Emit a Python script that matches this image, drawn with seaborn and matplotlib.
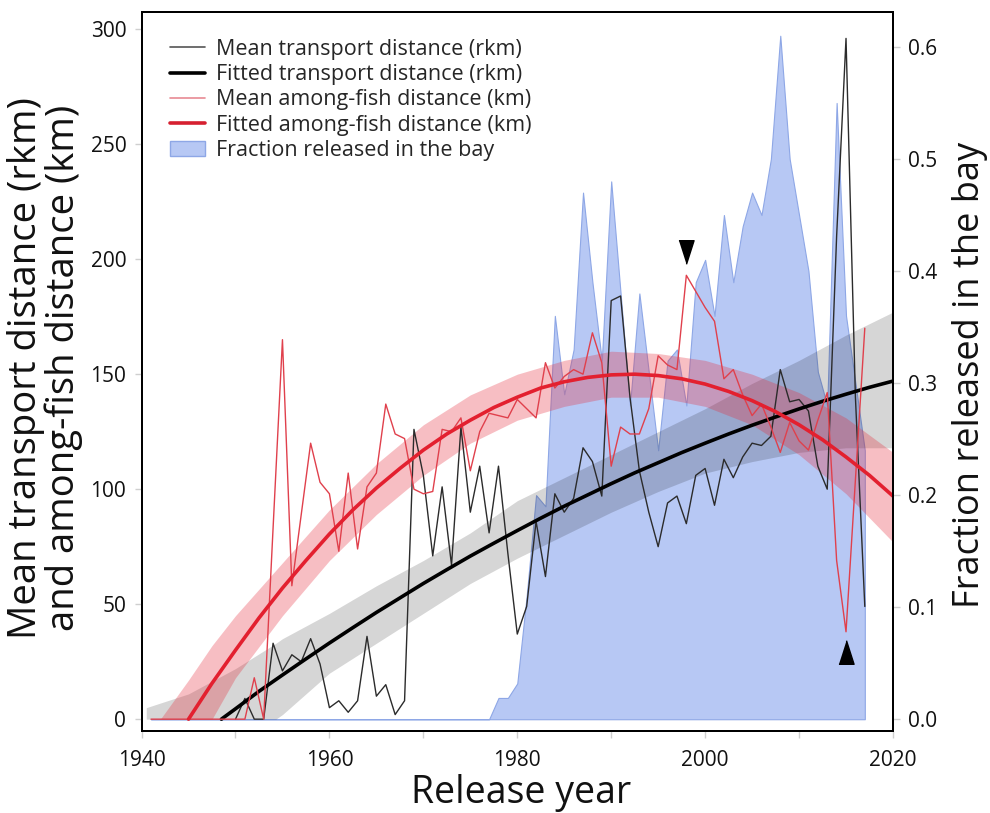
import numpy as np
import pandas as pd
import matplotlib
matplotlib.use("Agg")
import matplotlib.pyplot as plt
import seaborn as sns
from matplotlib.lines import Line2D
from matplotlib.patches import Patch
from matplotlib.ticker import FormatStrFormatter

sns.set_theme(style="white")
plt.rcParams["font.family"] = ["Open Sans", "DejaVu Sans"]

# mean transport distance (rkm), one value per release year
transport_years = list(range(1950, 2018))
transport_mean = [0, 9, 0, 0, 33, 21, 28, 25, 35, 24,
                  5, 8, 3, 8, 36, 10, 15, 2, 8, 126,
                  106, 71, 101, 67, 127, 90, 110, 81, 110, 72,
                  37, 49, 86, 62, 98, 90, 96, 118, 112, 97,
                  182, 184, 140, 108, 90, 75, 94, 97, 85, 106,
                  109, 93, 113, 105, 114, 120, 119, 123, 152, 138,
                  139, 134, 110, 100, 210, 296, 140, 49]

# mean among-fish distance (km)
fish_years = list(range(1941, 2018))
fish_mean = [0, 0, 0, 0, 0, 0, 0, 0, 0, 0, 0,
             18, 0, 83, 165, 58, 89, 120, 103,
             98, 73, 107, 74, 101, 107, 137, 124, 122, 100,
             98, 99, 126, 125, 131, 108, 125, 133, 132, 131,
             139, 135, 131, 155, 144, 149, 152, 150, 168, 155,
             110, 127, 124, 124, 135, 158, 154, 152, 193, 186,
             179, 173, 148, 152, 141, 132, 137, 127, 116, 129,
             121, 117, 130, 142, 69, 38, 104, 170]

# fraction released in the bay
bay_years = list(range(1941, 2018))
bay_frac = [0] * 37 + [0.019, 0.019,
            0.032, 0.11, 0.20, 0.19, 0.36, 0.29, 0.33, 0.47, 0.39, 0.32,
            0.48, 0.38, 0.28, 0.38, 0.31, 0.24, 0.32, 0.33, 0.28, 0.39,
            0.41, 0.36, 0.45, 0.39, 0.44, 0.47, 0.45, 0.50, 0.61, 0.50,
            0.45, 0.40, 0.31, 0.28, 0.55, 0.36, 0.30, 0.24]

# fitted transport distance, read every 2.5 years
tfit_years = [1948.5, 1950, 1952.5, 1955, 1957.5, 1960, 1962.5, 1965,
              1967.5, 1970, 1972.5, 1975, 1977.5, 1980, 1982.5, 1985,
              1987.5, 1990, 1992.5, 1995, 1997.5, 2000, 2002.5, 2005,
              2007.5, 2010, 2012.5, 2015, 2017.5, 2020]
tfit = [0, 4.5, 12.1, 19.2, 26.2, 33.1, 39.8, 46.4, 52.7, 59.0, 65.0,
        70.9, 76.5, 82.0, 87.4, 92.6, 97.5, 102.4, 107.1, 111.5, 115.9,
        120.0, 124.0, 127.8, 131.4, 134.9, 138.2, 141.3, 144.3, 147.0]
tband_years = [1940.5, 1945, 1950, 1954.3, 1955, 1960, 1965, 1970, 1975,
               1980, 1985, 1990, 1995, 2000, 2005, 2010, 2015, 2020]
tband_hi = [5, 11, 22, 33, 35, 46, 58, 69, 81, 95, 105, 115, 125, 135,
            146, 156, 167, 177]
tband_lo = [0, 0, 0, 0, 2, 20, 33, 46, 59, 70, 80, 90, 99, 107, 112,
            116, 118, 118]

# fitted among-fish distance, read every 2.5 years
ffit_years = [1945, 1947.5, 1950, 1952.5, 1955, 1957.5, 1960, 1962.5,
              1965, 1967.5, 1970, 1972.5, 1975, 1977.5, 1980, 1982.5,
              1985, 1987.5, 1990, 1992.5, 1995, 1997.5, 2000, 2002.5,
              2005, 2007.5, 2010, 2012.5, 2015, 2017.5, 2020]
ffit = [0, 15.6, 30, 44, 57, 69, 80.5, 91, 100.5, 109, 117, 124, 130,
        135.5, 140, 144, 146.7, 148.6, 149.7, 150, 149.4, 148, 145.7,
        142.5, 138.5, 133.7, 128, 121.5, 114, 106, 97]
fband_years = [1942, 1945, 1947.5, 1950, 1955, 1960, 1965, 1970, 1975,
               1980, 1985, 1990, 1995, 2000, 2005, 2010, 2015, 2020]
fband_hi = [0, 17, 32, 45, 68, 91, 111, 128, 141, 150, 156, 160, 159,
            156, 150, 142, 131, 116]
fband_lo = [0, 0, 0, 18, 45, 69, 89, 106, 120, 130, 136, 140, 140, 136,
            128, 115, 98, 77]

# arrowheads
down_year, down_val = [1998], [203]
up_year, up_val = [2015], [29]

fig = plt.figure(figsize=(9.9, 8.13), dpi=100)
ax = fig.add_axes([0.143, 0.101, 0.759, 0.884])
ax2 = ax.twinx()

# blue area goes on the right axis, behind everything else
ax2.fill_between(bay_years, 0, bay_frac, facecolor="#b7c8f4",
                 edgecolor="#8ea7e6", linewidth=0.8)
ax.set_zorder(ax2.get_zorder() + 1)
ax.patch.set_visible(False)

ax.fill_between(tband_years, tband_lo, tband_hi, color="black",
                alpha=0.16, linewidth=0)
ax.fill_between(fband_years, fband_lo, fband_hi, color="#e62a3a",
                alpha=0.3, linewidth=0)

sns.lineplot(x=transport_years, y=transport_mean, ax=ax,
             color="#2b2b2b", linewidth=1.0)
sns.lineplot(x=tfit_years, y=tfit, ax=ax, color="black", linewidth=2.6)
sns.lineplot(x=fish_years, y=fish_mean, ax=ax,
             color="#e0404c", linewidth=1.0)
sns.lineplot(x=ffit_years, y=ffit, ax=ax, color="#e3202f", linewidth=2.6)

down_tri = [(-0.32, 0.5), (0.32, 0.5), (0, -0.5)]
up_tri = [(-0.32, -0.5), (0.32, -0.5), (0, 0.5)]
ax.plot(down_year, down_val, linestyle="none", marker=down_tri,
        markersize=17, color="black")
ax.plot(up_year, up_val, linestyle="none", marker=up_tri,
        markersize=17, color="black")

ax.set_xlim(1940, 2020)
ax.set_ylim(-5.1, 307.4)
ax2.set_ylim(-0.0104, 0.631)
ax.set_xticks([1940, 1960, 1980, 2000, 2020])
ax.set_xticks([1950, 1970, 1990, 2010], minor=True)
ax.set_yticks(range(0, 301, 50))
ax2.set_yticks(np.arange(0, 0.61, 0.1))
ax2.yaxis.set_major_formatter(FormatStrFormatter("%.1f"))
ax.set_xlabel("")
ax.set_ylabel("")

ax.tick_params(axis="both", which="both", direction="out", length=5,
               width=1, color="#cfcfcf", labelsize=15, pad=6,
               bottom=True, left=True, labelcolor="#111111")
ax.tick_params(axis="x", pad=9)
ax2.tick_params(axis="y", direction="out", length=5, width=1,
                color="#cfcfcf", labelsize=15, pad=6, right=True,
                labelcolor="#111111")
for a in (ax, ax2):
    for s in a.spines.values():
        s.set_color("black")
        s.set_linewidth(1.4)

handles = [
    Line2D([], [], color="#555555", linewidth=1.2),
    Line2D([], [], color="black", linewidth=2.6),
    Line2D([], [], color="#e88a93", linewidth=1.2),
    Line2D([], [], color="#d62030", linewidth=2.6),
    Patch(facecolor="#b7c8f4", edgecolor="#8ea7e6"),
]
labels = ["Mean transport distance (rkm)",
          "Fitted transport distance (rkm)",
          "Mean among-fish distance (km)",
          "Fitted among-fish distance (km)",
          "Fraction released in the bay"]
ax.legend(handles, labels, loc="upper left", bbox_to_anchor=(0.026, 0.975),
          frameon=False, fontsize=15.5, labelspacing=0.2, handlelength=1.65,
          handletextpad=0.5, borderaxespad=0)

fig.text(521 / 990, 10 / 813, "Release year", ha="center", va="baseline",
         fontsize=27, color="#111111")
fig.text(45 / 990, 1 - 368 / 813,
         "Mean transport distance (rkm)\nand among-fish distance (km)",
         rotation=90, ha="center", va="center", multialignment="center",
         fontsize=27.5, linespacing=1.0, color="#111111")
fig.text(970 / 990, 1 - 375 / 813, "Fraction released in the bay",
         rotation=90, ha="center", va="center", fontsize=26,
         color="#111111")

fig.savefig("out.png", dpi=100)
